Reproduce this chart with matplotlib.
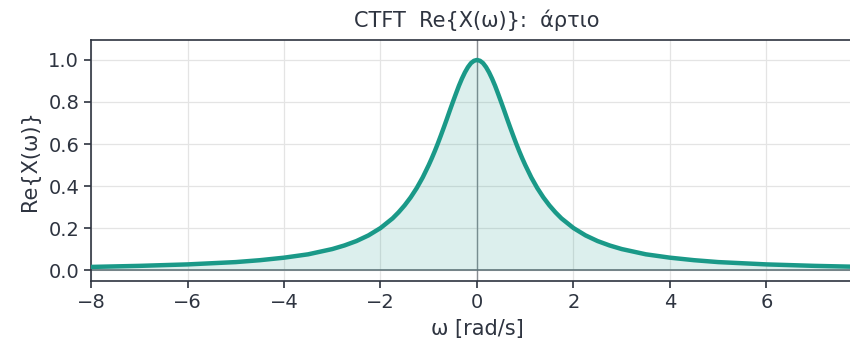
import matplotlib
matplotlib.use("Agg")
from matplotlib import pyplot as plt

# values (denser near the peak)
omega = [-8, -7, -6, -5, -4.5, -4, -3.5, -3, -2.75, -2.5, -2.25, -2, -1.75,
         -1.625, -1.5, -1.375, -1.25, -1.125, -1, -0.9375, -0.875, -0.8125,
         -0.75, -0.6875, -0.625, -0.5625, -0.5, -0.4375, -0.375, -0.3125,
         -0.25, -0.1875, -0.125, -0.0625, 0,
         0.0625, 0.125, 0.1875, 0.25, 0.3125, 0.375, 0.4375, 0.5, 0.5625,
         0.625, 0.6875, 0.75, 0.8125, 0.875, 0.9375, 1, 1.125, 1.25, 1.375,
         1.5, 1.625, 1.75, 2, 2.25, 2.5, 2.75, 3, 3.5, 4, 4.5, 5, 6, 7, 8]
re_x = [0.015, 0.02, 0.027, 0.038, 0.047, 0.059, 0.075, 0.1, 0.117, 0.138,
        0.165, 0.2, 0.246, 0.275, 0.308, 0.346, 0.39, 0.441, 0.5, 0.532,
        0.566, 0.602, 0.64, 0.679, 0.719, 0.76, 0.8, 0.839, 0.877, 0.911,
        0.941, 0.966, 0.985, 0.996, 1.0,
        0.996, 0.985, 0.966, 0.941, 0.911, 0.877, 0.839, 0.8, 0.76,
        0.719, 0.679, 0.64, 0.602, 0.566, 0.532, 0.5, 0.441, 0.39, 0.346,
        0.308, 0.275, 0.246, 0.2, 0.165, 0.138, 0.117, 0.1, 0.075, 0.059,
        0.047, 0.038, 0.027, 0.02, 0.015]
xticks = [-8, -6, -4, -2, 0, 2, 4, 6]
yticks = [0.0, 0.2, 0.4, 0.6, 0.8, 1.0]

teal = "#1a9988"
ink = "#2e3440"

fig = plt.figure(figsize=(8.5, 3.4), dpi=100)
ax = fig.add_axes([91 / 850, 1 - 281 / 340, (863 - 91) / 850, (281 - 40) / 340])

ax.grid(True, color="#e4e4e4", lw=0.9)
ax.set_axisbelow(True)
ax.axvline(0, color="#888c92", lw=1.0, zorder=1)
ax.axhline(0, color="#6b7078", lw=1.2, zorder=1)
ax.fill_between(omega, re_x, 0, color=teal, alpha=0.15, lw=0, zorder=2)
ax.plot(omega, re_x, color=teal, lw=3.2, zorder=3, solid_joinstyle="round")

ax.set_xlim(-8, 8)
ax.set_ylim(-0.052, 1.095)
ax.set_xticks(xticks)
ax.set_yticks(yticks)
ax.tick_params(colors=ink, labelsize=14, length=5, width=1.2)
for s in ax.spines.values():
    s.set_color(ink)
    s.set_linewidth(1.2)

ax.set_xlabel("ω [rad/s]", fontsize=15, color=ink, labelpad=5)
ax.set_ylabel("Re{X(ω)}", fontsize=15, color=ink, labelpad=6)
ax.set_title("CTFT  Re{X(ω)}:  άρτιο", fontsize=15, color=ink, pad=9)

fig.savefig("out.png", dpi=100)
